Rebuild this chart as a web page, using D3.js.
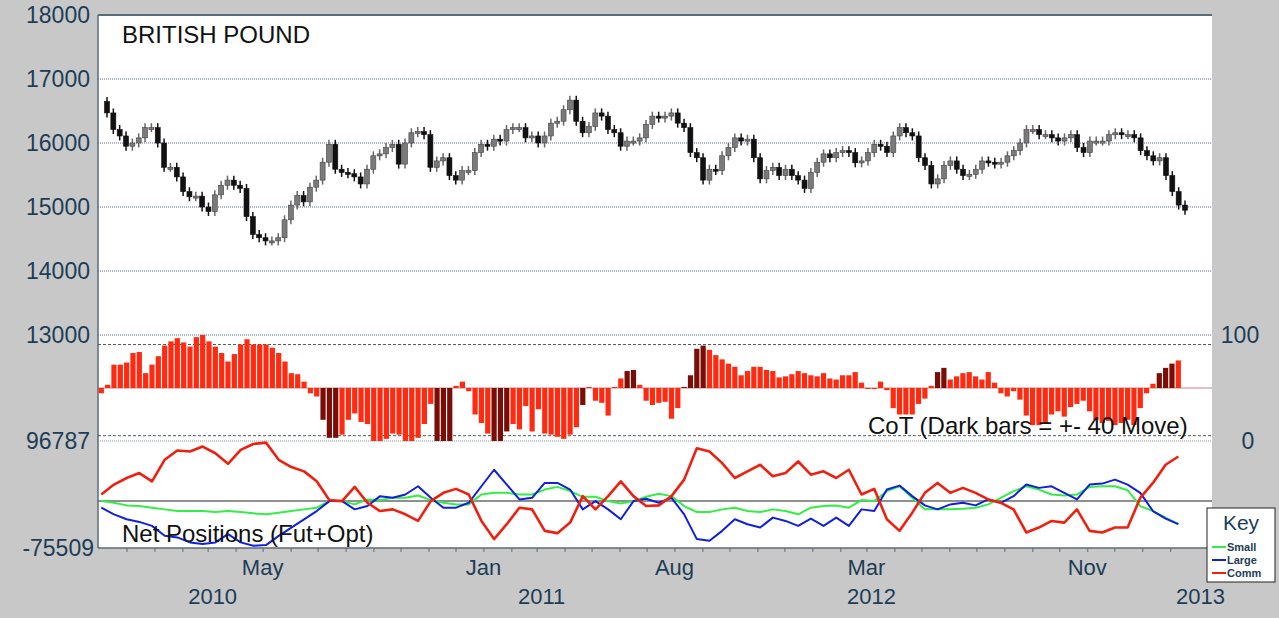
<!DOCTYPE html>
<html><head><meta charset="utf-8">
<script src="https://cdn.jsdelivr.net/npm/d3@7"></script>
<style>body{margin:0;background:#c8c8c8;}svg{display:block;font-family:Arial,"Liberation Sans",sans-serif;}</style>
</head><body><svg id="chart"></svg>
<script>
// weekly closes, british pound futures
var closes = [16470,16210,16110,15950,16000,16080,16240,16240,16000,15620,
  15620,15470,15240,15160,15170,15000,14930,15190,15340,15420,
  15340,15290,14850,14570,14520,14470,14470,14520,14800,15030,
  15180,15080,15310,15420,15700,15980,15590,15540,15520,15470,
  15360,15590,15800,15830,15930,15980,15670,16000,16160,16180,
  16130,15620,15720,15770,15490,15420,15570,15570,15850,
  15980,15950,16060,16030,16210,16240,16240,16080,16110,16000,
  16110,16310,16340,16520,16670,16340,16160,16260,16470,16420,
  16210,16160,15950,16030,16030,16080,16290,16420,16390,16420,
  16470,16310,16240,15850,15770,15420,15590,15570,15800,15930,
  16080,16030,16060,15770,15440,15570,15620,15490,15590,15490,
  15420,15290,15540,15700,15830,15770,15850,15880,15850,
  15690,15720,15850,15980,15950,15850,16110,16240,16160,16110,
  15770,15650,15360,15440,15650,15720,15590,15490,15510,15590,
  15720,15700,15670,15700,15800,15880,16000,16210,16210,16130,
  16130,16080,16030,16080,16130,15930,15850,16030,16030,16030,
  16130,16160,16130,16130,16080,15880,15800,15720,15770,15490,
  15240,15030,14950];
var firstOpen = 16650;

// CoT index 0..100
var cot = [45,53,72,72,74,83,84,64,72,80,90,94,97,93,89,98,100,94,89,83,
  75,82,91,96,91,91,91,88,83,75,64,63,56,45,42,20,3,3,6,20,
  26,18,16,0,0,2,7,6,0,0,3,16,35,0,0,0,52,56,47,25,
  17,7,0,0,9,16,11,33,9,30,7,6,4,2,6,13,34,51,38,36,
  24,51,59,66,67,53,38,34,36,37,21,31,51,62,87,90,86,81,77,73,
  70,62,66,70,70,67,66,60,61,63,66,64,62,61,64,59,58,62,
  62,65,55,50,49,56,48,31,25,25,25,35,40,52,65,69,58,61,64,65,
  61,58,65,55,45,42,47,39,24,15,15,17,25,28,23,32,35,38,28,20,
  17,19,15,17,20,15,31,45,54,64,69,73,76];
var darkBars = [35,36,37,53,54,55,62,63,64,76,83,84,92,93,94,95,132,133,167,168,169];

// net positions (thousands), every second week
var comm = [10.6,26.6,37.2,45.2,31.9,66.5,81.4,79.8,87.8,77.1,60.1,82.5,92.0,94.2,66.5,54.8,47.9,31.9,1.6,0,
  22.9,-2.7,-16.0,-13.3,-21.3,-31.9,0,13.3,19.7,10.6,
  -31.9,-61.2,-37.2,-10.6,-13.3,-47.9,-51.6,-34.6,8.0,-13.3,8.0,31.9,8.0,-8.0,-6.9,8.0,34.6,85.1,79.8,61.2,
  37.2,47.9,58.5,39.9,45.2,63.8,42.6,47.9,37.2,
  50.5,10.6,19.7,-29.3,-47.9,-18.6,13.3,29.3,13.3,21.3,13.3,2.7,-2.7,-13.3,-50.5,-42.6,-31.9,-34.6,-13.3,-47.9,
  -50.5,-42.6,-42.6,5.3,29.3,58.5,71.8];
var large = [-10.6,-21.3,-29.3,-33.5,-39.9,-55.9,-58.5,-66.5,-69.2,-66.5,-53.2,-66.5,-71.8,-70.8,-55.9,-42.6,-29.3,-16.0,0,0,
  -13.3,-8.0,8.0,5.3,10.6,23.9,5.3,-10.6,-10.6,-2.7,
  23.9,50.5,26.6,2.7,5.3,29.3,29.3,18.6,-13.3,0,-13.3,-29.3,0,3.7,-2.7,5.3,-21.3,-61.2,-63.8,-47.9,
  -29.3,-37.2,-42.6,-26.6,-31.9,-39.9,-28.2,-39.9,-26.6,
  -39.9,-13.3,-16.0,18.6,25.0,8.0,-6.9,-13.3,-5.3,-2.7,-6.9,2.7,-2.7,8.0,26.6,21.3,23.9,13.3,2.7,26.6,
  28.2,34.6,26.6,13.3,-16.0,-28.2,-37.2];
var small = [0,-2.7,-6.9,-8.0,-10.6,-13.3,-16.0,-16.0,-16.0,-17.6,-16.0,-17.6,-19.7,-21.3,-18.6,-16.0,-13.3,-10.6,0,0,
  -5.3,2.7,1.6,5.3,5.3,9.0,1.6,-2.7,-5.3,-5.3,
  10.6,13.3,13.3,10.6,10.6,18.6,22.9,16.0,6.9,6.9,0,-3.7,0,6.9,11.7,8.0,-8.0,-17.6,-17.6,-13.3,
  -10.6,-16.0,-17.6,-13.3,-16.0,-21.3,-10.6,-8.0,-6.9,
  -10.6,1.6,0,16.0,23.9,5.3,-13.3,-13.3,-13.3,-12.2,-10.6,-5.3,5.3,16.0,23.9,18.6,10.6,9.0,10.6,22.9,
  23.9,23.9,17.6,-8.0,-16.0,-26.6,-37.2];

var priceTicks = [18000,17000,16000,15000,14000,13000];
var monthLabels = [["2010-05-01","May"],["2011-01-01","Jan"],["2011-08-01","Aug"],["2012-03-01","Mar"],["2012-11-01","Nov"]];
var yearLabels = [["2010-03-01","2010"],["2011-03-01","2011"],["2012-03-01","2012"],["2013-03-01","2013"]];
var netMax = 96787, netMin = -75509;

var W = 1279, H = 618;
var L = 98, R = 1212, T = 15, B = 548;
var svg = d3.select("#chart").attr("width", W).attr("height", H);
var axisCol = "#1d3d57";

svg.append("rect").attr("x", L).attr("y", T).attr("width", R - L).attr("height", B - T).attr("fill", "white");

var yP = d3.scaleLinear().domain([18000, 13000]).range([T, 335]);
var yC = d3.scaleLinear().domain([0, 100]).range([441, 335]);
var yN = d3.scaleLinear().domain([netMin, netMax]).range([B, 441]);
var xCandle = d3.scaleLinear().domain([0, closes.length - 1]).range([107, 1185]);
var xWeek = d3.scaleLinear().domain([0, cot.length - 1]).range([101.3, 1178.3]);
var xTime = d3.scaleTime().domain([new Date(2009, 10, 3), new Date(2013, 1, 10)]).range([101.3, 1178.3]);

// grid
svg.selectAll(".grid").data(priceTicks.slice(1)).enter().append("line")
  .attr("x1", L).attr("x2", R).attr("y1", function(d){ return yP(d); }).attr("y2", function(d){ return yP(d); })
  .attr("stroke", "#5a6f86").attr("stroke-dasharray", "1,1").attr("stroke-width", 1);
svg.append("line").attr("x1", L).attr("x2", R).attr("y1", 441).attr("y2", 441)
  .attr("stroke", "#8a9aa8").attr("stroke-dasharray", "1,1");
[91, 5].forEach(function(v){
  svg.append("line").attr("x1", L).attr("x2", R).attr("y1", yC(v)).attr("y2", yC(v))
    .attr("stroke", "#555").attr("stroke-dasharray", "3,2");
});

// candles
var candles = closes.map(function(c, i){
  var o = i === 0 ? firstOpen : closes[i - 1];
  return {i: i, o: o, c: c, h: Math.max(o, c) + 70, l: Math.min(o, c) - 70};
});
var cg = svg.append("g");
cg.selectAll("line").data(candles).enter().append("line")
  .attr("x1", function(d){ return xCandle(d.i); }).attr("x2", function(d){ return xCandle(d.i); })
  .attr("y1", function(d){ return yP(d.h); }).attr("y2", function(d){ return yP(d.l); })
  .attr("stroke", function(d){ return d.c >= d.o ? "#666" : "#111"; }).attr("stroke-width", 1.5);
cg.selectAll("rect").data(candles).enter().append("rect")
  .attr("x", function(d){ return xCandle(d.i) - 2.5; }).attr("width", 5)
  .attr("y", function(d){ return yP(Math.max(d.o, d.c)); })
  .attr("height", function(d){ return Math.max(2, Math.abs(yP(d.o) - yP(d.c))); })
  .attr("fill", function(d){ return d.c >= d.o ? "#7a7a7a" : "#111"; })
  .attr("stroke", function(d){ return d.c >= d.o ? "#444" : "#111"; }).attr("stroke-width", 0.6);

// CoT bars
svg.append("line").attr("x1", L).attr("x2", R).attr("y1", yC(50)).attr("y2", yC(50)).attr("stroke", "#c98080");
svg.append("g").selectAll("rect").data(cot).enter().append("rect")
  .attr("x", function(d, i){ return xWeek(i) - 2.6; }).attr("width", 5.2)
  .attr("y", function(d){ return yC(Math.max(d, 50)); })
  .attr("height", function(d){ return Math.max(1, Math.abs(yC(d) - yC(50))); })
  .attr("fill", function(d, i){ return darkBars.indexOf(i) >= 0 ? "#7a0d06" : "#ff2a10"; });

// net positions
svg.append("line").attr("x1", L).attr("x2", R).attr("y1", yN(0)).attr("y2", yN(0)).attr("stroke", "#6b6b6b").attr("stroke-width", 1.5);
function weekOf(i, n){ return i === n - 1 ? cot.length - 1 : i * 2; }
var line = d3.line()
  .x(function(d, i, arr){ return xWeek(weekOf(i, arr.length)); })
  .y(function(d){ return yN(d * 1000); });
[[small, "#33ee44", 2], [large, "#1020dd", 2], [comm, "#ee2010", 2.6]].forEach(function(s){
  svg.append("path").datum(s[0]).attr("d", line).attr("fill", "none")
    .attr("stroke", s[1]).attr("stroke-width", s[2]).attr("stroke-linejoin", "round");
});

// frame & axes
svg.append("line").attr("x1", L).attr("x2", R).attr("y1", T).attr("y2", T).attr("stroke", "#5b6b78").attr("stroke-width", 2);
svg.append("line").attr("x1", L).attr("x2", L).attr("y1", T).attr("y2", B).attr("stroke", "#5b6b78").attr("stroke-width", 1.5);
svg.append("line").attr("x1", L).attr("x2", R).attr("y1", B).attr("y2", B).attr("stroke", "#5b6b78").attr("stroke-width", 1.5);

svg.selectAll(".pl").data(priceTicks).enter().append("text")
  .attr("x", 90).attr("y", function(d){ return yP(d) + 8; }).attr("text-anchor", "end")
  .attr("font-size", 23).attr("fill", axisCol).text(function(d){ return d; });
svg.append("text").attr("x", 90).attr("y", 449).attr("text-anchor", "end").attr("font-size", 23).attr("fill", axisCol).text(netMax);
svg.append("text").attr("x", 94).attr("y", 556).attr("text-anchor", "end").attr("font-size", 23).attr("fill", axisCol).text(netMin);
svg.append("text").attr("x", 1240).attr("y", 343).attr("text-anchor", "middle").attr("font-size", 23).attr("fill", axisCol).text("100");
svg.append("text").attr("x", 1248).attr("y", 449).attr("text-anchor", "middle").attr("font-size", 23).attr("fill", axisCol).text("0");

var xAxis = d3.axisBottom(xTime).ticks(d3.timeMonth.every(1)).tickSize(4).tickFormat("");
var ax = svg.append("g").attr("transform", "translate(0," + B + ")").call(xAxis);
ax.select(".domain").remove();
ax.selectAll("line").attr("stroke", "#5b6b78");
svg.selectAll(".ml").data(monthLabels).enter().append("text")
  .attr("x", function(d){ return xTime(new Date(d[0])); }).attr("y", 575).attr("text-anchor", "middle")
  .attr("font-size", 22).attr("fill", axisCol).text(function(d){ return d[1]; });
svg.selectAll(".yl").data(yearLabels).enter().append("text")
  .attr("x", function(d){ return xTime(new Date(d[0])) + 5; }).attr("y", 604).attr("text-anchor", "middle")
  .attr("font-size", 22).attr("fill", axisCol).text(function(d){ return d[1]; });

// captions
svg.append("text").attr("x", 122).attr("y", 43).attr("font-size", 24).attr("fill", "#111").text("BRITISH POUND");
svg.append("text").attr("x", 868).attr("y", 434).attr("font-size", 24).attr("fill", "#111").text("CoT (Dark bars = +- 40 Move)");
svg.append("text").attr("x", 122).attr("y", 542).attr("font-size", 24).attr("fill", "#111").text("Net Positions (Fut+Opt)");

// key
var key = svg.append("g").attr("transform", "translate(1207,508)");
key.append("rect").attr("width", 68).attr("height", 74).attr("fill", "white").attr("stroke", "#222");
key.append("text").attr("x", 34).attr("y", 22).attr("text-anchor", "middle").attr("font-size", 21).attr("fill", axisCol).text("Key");
[["Small", "#33ee44"], ["Large", "#1020dd"], ["Comm", "#ee2010"]].forEach(function(k, i){
  key.append("line").attr("x1", 5).attr("x2", 19).attr("y1", 39 + i * 13).attr("y2", 39 + i * 13).attr("stroke", k[1]).attr("stroke-width", 2);
  key.append("text").attr("x", 20).attr("y", 43 + i * 13).attr("font-size", 11).attr("font-weight", "bold").attr("fill", axisCol).text(k[0]);
});
</script></body></html>
